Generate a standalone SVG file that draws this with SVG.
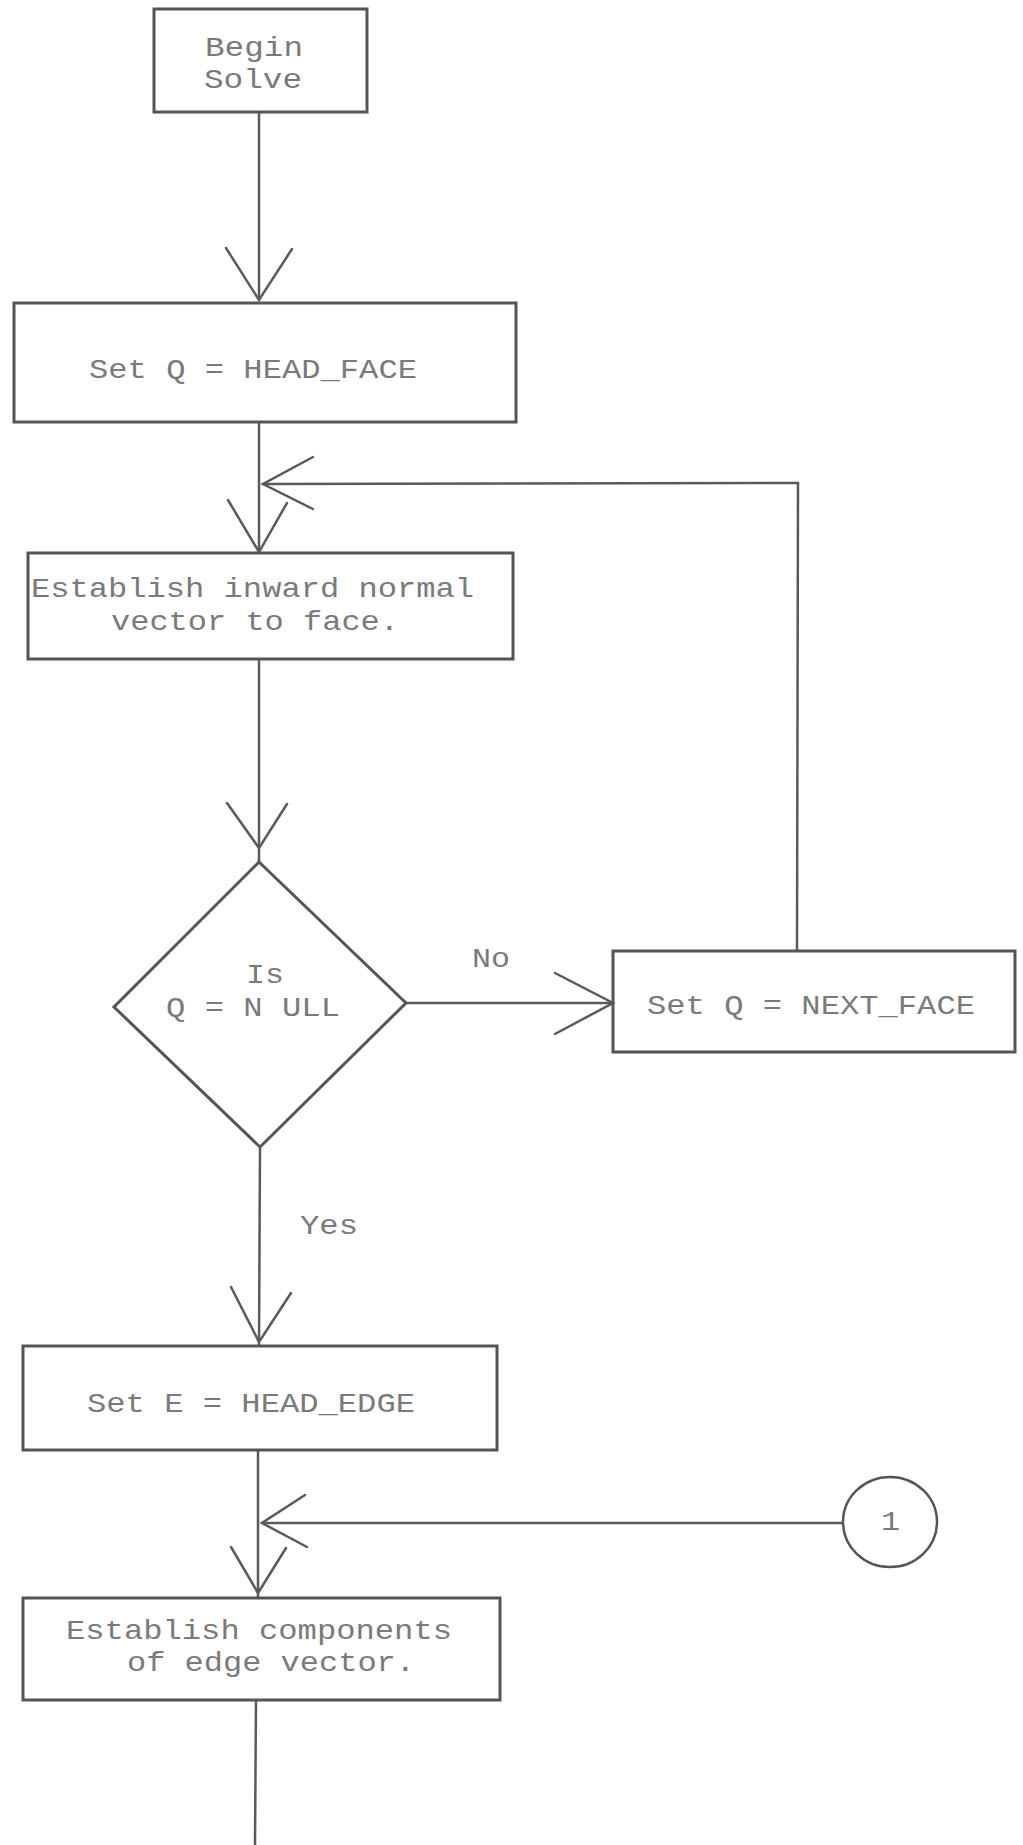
<svg xmlns="http://www.w3.org/2000/svg" width="1023" height="1845" viewBox="0 0 1023 1845">
<style>
  .bg { fill: #ffffff; }
  .box { fill: none; stroke: #555555; stroke-width: 3; stroke-linejoin: miter; }
  .line { fill: none; stroke: #5a5a5a; stroke-width: 2.5; stroke-linecap: round; }
  .head { fill: none; stroke: #5a5a5a; stroke-width: 2.5; stroke-linecap: round; stroke-linejoin: miter; }
  .t { font-family: "Liberation Mono", "DejaVu Sans Mono", monospace; font-size: 28px; fill: #7a7a7a; }
</style>
<rect class="bg" x="0" y="0" width="1023" height="1845"/>

<g id="connectors">
  <!-- Begin -> Set Q -->
  <path class="line" d="M259 112 L259 300"/>
  <path class="head" d="M226 248 L259 300 L292 249"/>
  <!-- Set Q -> Establish normal -->
  <path class="line" d="M259 422 L259 552"/>
  <path class="head" d="M228 500 L259 552 L287 503"/>
  <!-- loop back from NEXT_FACE -->
  <path class="line" d="M797 951 L798 483 L263 484"/>
  <path class="head" d="M313 457 L263 484 L313 509"/>
  <!-- Establish normal -> diamond -->
  <path class="line" d="M259 659 L259 862"/>
  <path class="head" d="M227 803 L259 848 L287 804"/>
  <!-- diamond -> NEXT_FACE (No) -->
  <path class="line" d="M406 1003 L613 1003"/>
  <path class="head" d="M555 973 L613 1003 L555 1034"/>
  <!-- diamond -> Set E (Yes) -->
  <path class="line" d="M260 1147 L259 1346"/>
  <path class="head" d="M231 1287 L259 1342 L291 1293"/>
  <!-- Set E -> Establish components -->
  <path class="line" d="M258 1450 L258 1598"/>
  <path class="head" d="M231 1547 L258 1593 L286 1548"/>
  <!-- connector 1 -> join -->
  <path class="line" d="M843 1523 L262 1523"/>
  <path class="head" d="M305 1495 L262 1523 L307 1547"/>
  <!-- exit downward -->
  <path class="line" d="M256 1700 L255 1845"/>
  <!-- branch labels -->
  <text class="t" x="472" y="967" textLength="38" lengthAdjust="spacingAndGlyphs">No</text>
  <text class="t" x="300" y="1234" textLength="58" lengthAdjust="spacingAndGlyphs">Yes</text>
</g>

<g id="begin-solve">
  <rect class="box" x="154" y="9" width="213" height="103"/>
  <text class="t" x="205" y="56" textLength="98" lengthAdjust="spacingAndGlyphs">Begin</text>
  <text class="t" x="204" y="88" textLength="98" lengthAdjust="spacingAndGlyphs">Solve</text>
</g>

<g id="set-q-head-face">
  <rect class="box" x="14" y="303" width="502" height="119"/>
  <text class="t" x="89" y="378" textLength="328" lengthAdjust="spacingAndGlyphs">Set Q = HEAD_FACE</text>
</g>

<g id="establish-normal">
  <rect class="box" x="28" y="553" width="485" height="106"/>
  <text class="t" x="31" y="597" textLength="443" lengthAdjust="spacingAndGlyphs">Establish inward normal</text>
  <text class="t" x="111" y="630" textLength="288" lengthAdjust="spacingAndGlyphs">vector to face.</text>
</g>

<g id="is-q-null">
  <polygon class="box" points="259,862 406,1003 260,1147 114,1007"/>
  <text class="t" x="246" y="983" textLength="38" lengthAdjust="spacingAndGlyphs">Is</text>
  <text class="t" x="166" y="1016" textLength="174" lengthAdjust="spacingAndGlyphs">Q = N ULL</text>
</g>

<g id="set-q-next-face">
  <rect class="box" x="613" y="951" width="402" height="101"/>
  <text class="t" x="647" y="1014" textLength="328" lengthAdjust="spacingAndGlyphs">Set Q = NEXT_FACE</text>
</g>

<g id="set-e-head-edge">
  <rect class="box" x="23" y="1346" width="474" height="104"/>
  <text class="t" x="87" y="1412" textLength="328" lengthAdjust="spacingAndGlyphs">Set E = HEAD_EDGE</text>
</g>

<g id="connector-1">
  <ellipse class="box" cx="890" cy="1522" rx="47" ry="45" style="stroke-width:2.5"/>
  <text class="t" x="881" y="1530" textLength="19" lengthAdjust="spacingAndGlyphs">1</text>
</g>

<g id="establish-components">
  <rect class="box" x="23" y="1598" width="477" height="102"/>
  <text class="t" x="66" y="1639" textLength="386" lengthAdjust="spacingAndGlyphs">Establish components</text>
  <text class="t" x="127" y="1671" textLength="288" lengthAdjust="spacingAndGlyphs">of edge vector.</text>
</g>
</svg>
